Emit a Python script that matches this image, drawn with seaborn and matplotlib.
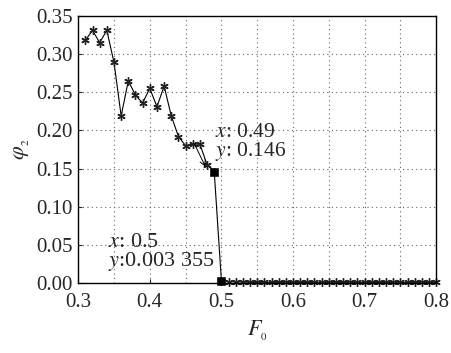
import numpy as np
import pandas as pd
import matplotlib
matplotlib.use('Agg')
import matplotlib.pyplot as plt
import seaborn as sns

# F0 values and phi_2
f0 = [0.31, 0.32, 0.33, 0.34, 0.35, 0.36, 0.37, 0.38, 0.39, 0.40,
      0.41, 0.42, 0.43, 0.44, 0.45, 0.46, 0.47, 0.48, 0.49, 0.50,
      0.51, 0.52, 0.53, 0.54, 0.55, 0.56, 0.57, 0.58, 0.59, 0.60,
      0.61, 0.62, 0.63, 0.64, 0.65, 0.66, 0.67, 0.68, 0.69, 0.70,
      0.71, 0.72, 0.73, 0.74, 0.75, 0.76, 0.77, 0.78, 0.79, 0.80]
phi2 = [0.318, 0.331, 0.315, 0.331, 0.289, 0.219, 0.265, 0.246, 0.236, 0.255,
        0.231, 0.258, 0.219, 0.192, 0.180, 0.182, 0.182, 0.155, 0.146, 0.003355,
        0.002, 0.0015, 0.0015, 0.001, 0.001, 0.001, 0.001, 0.001, 0.001, 0.001,
        0.001, 0.001, 0.001, 0.001, 0.001, 0.001, 0.001, 0.001, 0.001, 0.001,
        0.001, 0.001, 0.001, 0.001, 0.001, 0.001, 0.001, 0.001, 0.001, 0.001]

tip_x = [0.49, 0.5]
tip_y = [0.146, 0.003355]

xticks = [0.3, 0.4, 0.5, 0.6, 0.7, 0.8]
yticks = [0.0, 0.05, 0.10, 0.15, 0.20, 0.25, 0.30, 0.35]

df = pd.DataFrame({'F0': f0, 'phi2': phi2})
tips = pd.DataFrame({'F0': tip_x, 'phi2': tip_y})

sns.set_style('ticks')
plt.rcParams['font.family'] = ['Liberation Serif', 'DejaVu Serif']
plt.rcParams['mathtext.fontset'] = 'stix'

fig = plt.figure(figsize=(4.52, 3.53), dpi=100)
ax = fig.add_axes([0.173, 0.198, 0.792, 0.757])

sns.lineplot(data=df, x='F0', y='phi2', ax=ax, color='black', linewidth=0.8,
             marker=(6, 2, 0), markersize=6, markeredgecolor='#222222',
             markeredgewidth=1.0, clip_on=False)
sns.scatterplot(data=tips, x='F0', y='phi2', ax=ax, marker='s', s=28,
                color='black', edgecolor='black', zorder=5, clip_on=False)

ax.set_xlim(0.3, 0.8)
ax.set_ylim(0, 0.35)
ax.set_xticks(xticks)
ax.set_yticks(yticks)
ax.set_xticklabels(['{:.1f}'.format(t) for t in xticks])
ax.set_yticklabels(['{:.2f}'.format(t) for t in yticks])
ax.set_xticks(np.arange(0.35, 0.8, 0.1), minor=True)
ax.grid(True, which='both', linestyle=(0, (1, 3)), color='#666666', linewidth=0.8)
ax.tick_params(which='both', direction='in', labelsize=15, length=3, width=0.8)
ax.tick_params(which='minor', length=0)
ax.tick_params(axis='x', pad=7)
ax.tick_params(axis='y', pad=4)
for sp in ax.spines.values():
    sp.set_visible(True)
    sp.set_linewidth(1.0)
    sp.set_color('black')

ax.set_xlabel('$F_{_0}$', fontsize=16, labelpad=5)
ax.set_ylabel('$\\varphi_{_2}$', fontsize=16, labelpad=3)

ax.annotate('$x$: 0.49\n$y$: 0.146', xy=(0.49, 0.146), xytext=(0.4905, 0.157),
            fontsize=15.5, linespacing=0.9, va='bottom', ha='left')
ax.annotate('', xy=(0.4795, 0.149), xytext=(0.4605, 0.186),
            arrowprops=dict(arrowstyle='->', color='black', lw=0.7))
ax.annotate('$x$: 0.5\n$y$:0.003 355', xy=(0.5, 0.003355), xytext=(0.3415, 0.039),
            fontsize=16, linespacing=0.88, va='center', ha='left')

fig.savefig('out.png', dpi=100)
